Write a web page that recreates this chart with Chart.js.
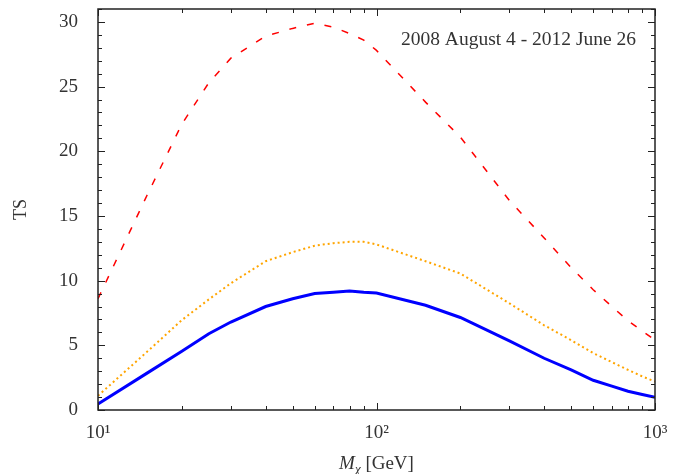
<!DOCTYPE html>
<html lang="en">
<head>
  <meta charset="UTF-8" />
  <title>TS vs M_chi</title>
  <script src="https://cdn.jsdelivr.net/npm/chart.js"></script>
  <style>
    body { margin: 0; background: #fff; }
    .chart-box { width: 683px; height: 474px; }
  </style>
</head>
<body>
  <div class="chart-box">
    <canvas id="tsChart"></canvas>
  </div>

  <script>
    // Dark matter mass [GeV]
    const masses = [10, 15, 20, 25, 30, 40, 50, 60, 70, 80, 90, 100, 150, 200, 300, 400, 500, 600, 700, 800, 900, 1000];

    // TS curves
    const tsRed    = [8.6, 16.6, 22.1, 25.3, 27.2, 28.9, 29.5, 29.9, 29.6, 29.1, 28.6, 27.8, 23.8, 21.1, 16.2, 13.3, 11.0, 9.3, 8.0, 6.9, 6.1, 5.4];
    const tsOrange = [1.1, 4.5, 6.95, 8.55, 9.8, 11.5, 12.2, 12.7, 12.9, 13.0, 13.0, 12.8, 11.5, 10.55, 8.25, 6.55, 5.4, 4.4, 3.7, 3.1, 2.6, 2.2];
    const tsBlue   = [0.46, 2.85, 4.55, 5.9, 6.8, 8.0, 8.6, 9.0, 9.1, 9.2, 9.1, 9.05, 8.1, 7.15, 5.35, 4.0, 3.1, 2.3, 1.85, 1.45, 1.2, 0.98];

    const xTickValues = [10, 100, 1000];
    const xTickLabels = ['10\u00B9', '10\u00B2', '10\u00B3'];
    const yTickValues = [0, 5, 10, 15, 20, 25, 30];
    const periodText = '2008 August 4 - 2012 June 26';

    const serif = '"Liberation Serif", "DejaVu Serif", serif';
    const toPoints = ys => masses.map((m, i) => ({ x: m, y: ys[i] }));

    // inward tick marks, frame and extra texts
    const framePlugin = {
      id: 'frame',
      afterDraw(chart) {
        const ctx = chart.ctx;
        const { left, right, top, bottom } = chart.chartArea;
        const xs = chart.scales.x, ys = chart.scales.y;
        ctx.save();
        ctx.strokeStyle = '#222';
        ctx.lineWidth = 1.5;
        ctx.strokeRect(left, top, right - left, bottom - top);

        ctx.lineWidth = 1;
        ctx.beginPath();
        for (let v = ys.min; v <= ys.max; v++) {
          const py = Math.round(ys.getPixelForValue(v)) + 0.5;
          const len = yTickValues.includes(v) ? 7 : 4;
          ctx.moveTo(left, py); ctx.lineTo(left + len, py);
          ctx.moveTo(right, py); ctx.lineTo(right - len, py);
        }
        for (let d = 10; d < 1000; d *= 10) {
          for (let k = 1; k <= 10; k++) {
            const v = d * k;
            const px = Math.round(xs.getPixelForValue(v)) + 0.5;
            const len = xTickValues.includes(v) ? 7 : 4;
            ctx.moveTo(px, bottom); ctx.lineTo(px, bottom - len);
            ctx.moveTo(px, top); ctx.lineTo(px, top + len);
          }
        }
        ctx.stroke();

        ctx.fillStyle = '#333';
        ctx.textBaseline = 'alphabetic';
        ctx.font = '19.5px ' + serif;
        ctx.textAlign = 'right';
        ctx.fillText(periodText, right - 19, top + 36);

        // x axis title: M_chi [GeV]
        ctx.textAlign = 'left';
        const cx = (left + right) / 2;
        const base = 469;
        ctx.font = 'italic 19px ' + serif;
        const wM = ctx.measureText('M').width;
        ctx.font = 'italic 13px ' + serif;
        const wChi = ctx.measureText('\u03C7').width;
        ctx.font = '19px ' + serif;
        const wRest = ctx.measureText(' [GeV]').width;
        let x0 = cx - (wM + wChi + wRest) / 2;
        ctx.font = 'italic 19px ' + serif;
        ctx.fillText('M', x0, base);
        ctx.font = 'italic 13px ' + serif;
        ctx.fillText('\u03C7', x0 + wM, base + 4);
        ctx.font = '19px ' + serif;
        ctx.fillText(' [GeV]', x0 + wM + wChi, base);
        ctx.restore();
      }
    };

    new Chart(document.getElementById('tsChart'), {
      type: 'line',
      data: {
        datasets: [
          {
            label: 'red',
            data: toPoints(tsRed),
            borderColor: '#ff0000',
            borderWidth: 1.5,
            borderDash: [7, 11]
          },
          {
            label: 'orange',
            data: toPoints(tsOrange),
            borderColor: '#ffa500',
            borderWidth: 2,
            borderDash: [2, 3]
          },
          {
            label: 'blue',
            data: toPoints(tsBlue),
            borderColor: '#0000ff',
            borderWidth: 3
          }
        ]
      },
      options: {
        responsive: true,
        maintainAspectRatio: false,
        animation: false,
        layout: { padding: { left: 0, right: 28, top: 9, bottom: 0 } },
        elements: { point: { radius: 0 }, line: { tension: 0 } },
        plugins: {
          legend: { display: false },
          tooltip: { enabled: false }
        },
        scales: {
          x: {
            type: 'logarithmic',
            min: 10,
            max: 1000,
            grid: { display: false },
            border: { display: false },
            afterBuildTicks: s => { s.ticks = xTickValues.map(v => ({ value: v })); },
            afterFit: s => { s.height = 64; s.paddingLeft = 0; s.paddingRight = 0; },
            ticks: {
              font: { family: serif, size: 19 },
              color: '#333',
              padding: 4,
              maxRotation: 0,
              callback: v => xTickLabels[xTickValues.indexOf(v)]
            }
          },
          y: {
            min: 0,
            max: 31,
            grid: { display: false },
            border: { display: false },
            afterBuildTicks: s => { s.ticks = yTickValues.map(v => ({ value: v })); },
            afterFit: s => { s.width = 98; s.paddingTop = 0; s.paddingBottom = 0; },
            ticks: {
              font: { family: serif, size: 19 },
              color: '#333',
              padding: 12
            },
            title: {
              display: true,
              text: 'TS',
              font: { family: serif, size: 18 },
              color: '#333',
              padding: 10
            }
          }
        }
      },
      plugins: [framePlugin]
    });
  </script>
</body>
</html>
